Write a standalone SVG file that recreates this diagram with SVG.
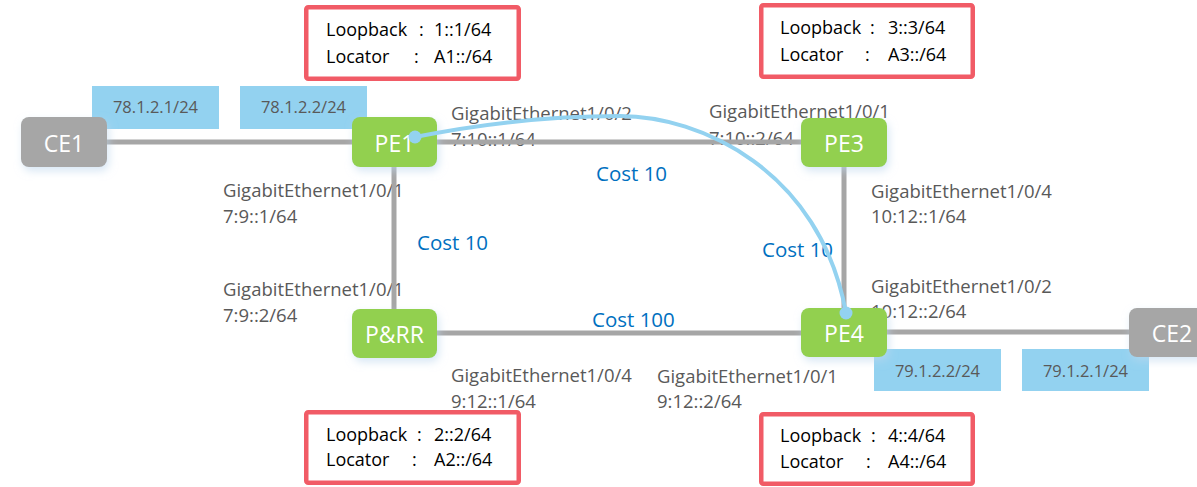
<svg xmlns="http://www.w3.org/2000/svg" width="1197" height="487" viewBox="0 0 1197 487">
  <defs>
    <filter id="glow" x="-30%" y="-30%" width="160%" height="170%">
      <feDropShadow dx="2" dy="4" stdDeviation="4" flood-color="#bdd7ee" flood-opacity="0.6"/>
    </filter>
    <style>
      text { font-family: "Open Sans", "Liberation Sans", sans-serif; }
      .if { font-size: 18.5px; fill: #595959; }
      .cost { font-size: 20.5px; fill: #0070c0; }
      .ip rect { fill: #93d2f0; }
      .ip text { font-size: 16.5px; fill: #595959; text-anchor: middle; }
      .info rect { fill: #ffffff; stroke: #f15b66; stroke-width: 4.5; }
      .info text { font-size: 18px; fill: #000000; }
      .link { stroke: #a6a6a6; stroke-width: 5; fill: none; }
      .node rect { filter: url(#glow); }
      .pe rect { fill: #92d050; }
      .ce rect { fill: #a6a6a6; }
      .node text { font-size: 23px; fill: #ffffff; text-anchor: middle; }
      .path { stroke: #93d2f0; stroke-width: 4; fill: none; }
      .dot { fill: #93d2f0; }
    </style>
  </defs>

  <rect width="1197" height="487" fill="#ffffff"/>

  <!-- interface labels -->
  <g id="interface-labels">
    <text class="if" x="451" y="120">GigabitEthernet1/0/2</text>
    <text class="if" x="451" y="146">7:10::1/64</text>
    <text class="if" x="709" y="118">GigabitEthernet1/0/1</text>
    <text class="if" x="709" y="145">7:10::2/64</text>
    <text class="if" x="223" y="197">GigabitEthernet1/0/1</text>
    <text class="if" x="223" y="223">7:9::1/64</text>
    <text class="if" x="223" y="296">GigabitEthernet1/0/1</text>
    <text class="if" x="223" y="322">7:9::2/64</text>
    <text class="if" x="871" y="198">GigabitEthernet1/0/4</text>
    <text class="if" x="871" y="223">10:12::1/64</text>
    <text class="if" x="871" y="293">GigabitEthernet1/0/2</text>
    <text class="if" x="871" y="318">10:12::2/64</text>
    <text class="if" x="451" y="382">GigabitEthernet1/0/4</text>
    <text class="if" x="451" y="408">9:12::1/64</text>
    <text class="if" x="657" y="383">GigabitEthernet1/0/1</text>
    <text class="if" x="657" y="408">9:12::2/64</text>
  </g>

  <!-- link costs -->
  <g id="costs">
    <text class="cost" x="596" y="181">Cost 10</text>
    <text class="cost" x="417" y="250">Cost 10</text>
    <text class="cost" x="762" y="257">Cost 10</text>
    <text class="cost" x="592" y="327">Cost 100</text>
  </g>

  <!-- physical links -->
  <g id="links">
    <line class="link" x1="107" y1="142" x2="352" y2="142"/>
    <line class="link" x1="437" y1="142" x2="801" y2="142"/>
    <line class="link" x1="394" y1="167" x2="394" y2="309"/>
    <line class="link" x1="844" y1="167" x2="844" y2="308"/>
    <line class="link" x1="437" y1="333" x2="801" y2="333"/>
    <line class="link" x1="887" y1="332" x2="1129" y2="332"/>
  </g>

  <!-- access addresses -->
  <g id="ip-ce1" class="ip">
    <rect x="92" y="86" width="127" height="43"/>
    <text x="155.5" y="113">78.1.2.1/24</text>
  </g>
  <g id="ip-pe1" class="ip">
    <rect x="240" y="86" width="127" height="43"/>
    <text x="303.5" y="113">78.1.2.2/24</text>
  </g>
  <g id="ip-pe4" class="ip">
    <rect x="874" y="349" width="127" height="42"/>
    <text x="937.5" y="377">79.1.2.2/24</text>
  </g>
  <g id="ip-ce2" class="ip">
    <rect x="1022" y="349" width="127" height="42"/>
    <text x="1085.5" y="377">79.1.2.1/24</text>
  </g>

  <!-- devices -->
  <g id="CE1" class="node ce">
    <rect x="21" y="117" width="86" height="50" rx="8"/>
    <text x="64" y="152">CE1</text>
  </g>
  <g id="PE1" class="node pe">
    <rect x="352" y="117" width="85" height="50" rx="8"/>
    <text x="394.5" y="152">PE1</text>
  </g>
  <g id="PE3" class="node pe">
    <rect x="801" y="118" width="86" height="49" rx="8"/>
    <text x="844" y="152">PE3</text>
  </g>
  <g id="PRR" class="node pe">
    <rect x="352" y="309" width="85" height="49" rx="8"/>
    <text x="394.5" y="343">P&amp;RR</text>
  </g>
  <g id="PE4" class="node pe">
    <rect x="801" y="308" width="86" height="49" rx="8"/>
    <text x="844" y="342">PE4</text>
  </g>
  <g id="CE2" class="node ce">
    <rect x="1129" y="308" width="86" height="49" rx="8"/>
    <text x="1172" y="342">CE2</text>
  </g>

  <!-- SRv6 path PE1 -> PE3 -> PE4 -->
  <g id="srv6-path">
    <path class="path" d="M415,137 Q520,116 620,116 C700,116 820,170 846,313"/>
    <circle class="dot" cx="415" cy="137" r="6.5"/>
    <circle class="dot" cx="846" cy="313" r="6.5"/>
  </g>

  <!-- loopback / locator boxes -->
  <g id="info-pe1" class="info">
    <rect x="306.25" y="7.25" width="212.5" height="71.5" rx="2"/>
    <text x="326" y="36">Loopback</text>
    <text x="419" y="36">:</text>
    <text x="434" y="36">1::1/64</text>
    <text x="326" y="63">Locator</text>
    <text x="414" y="63">:</text>
    <text x="434" y="63">A1::/64</text>
  </g>
  <g id="info-pe3" class="info">
    <rect x="761.25" y="5.25" width="211.5" height="71.5" rx="2"/>
    <text x="780" y="34">Loopback</text>
    <text x="870" y="34">:</text>
    <text x="888" y="34">3::3/64</text>
    <text x="780" y="61">Locator</text>
    <text x="865" y="61">:</text>
    <text x="888" y="61">A3::/64</text>
  </g>
  <g id="info-prr" class="info">
    <rect x="306.25" y="412.25" width="212.5" height="70.5" rx="2"/>
    <text x="326" y="441">Loopback</text>
    <text x="417" y="441">:</text>
    <text x="434" y="441">2::2/64</text>
    <text x="326" y="466">Locator</text>
    <text x="412" y="466">:</text>
    <text x="434" y="466">A2::/64</text>
  </g>
  <g id="info-pe4" class="info">
    <rect x="761.25" y="414.25" width="211.5" height="69.5" rx="2"/>
    <text x="780" y="442">Loopback</text>
    <text x="871" y="442">:</text>
    <text x="888" y="442">4::4/64</text>
    <text x="780" y="468">Locator</text>
    <text x="866" y="468">:</text>
    <text x="888" y="468">A4::/64</text>
  </g>
</svg>
